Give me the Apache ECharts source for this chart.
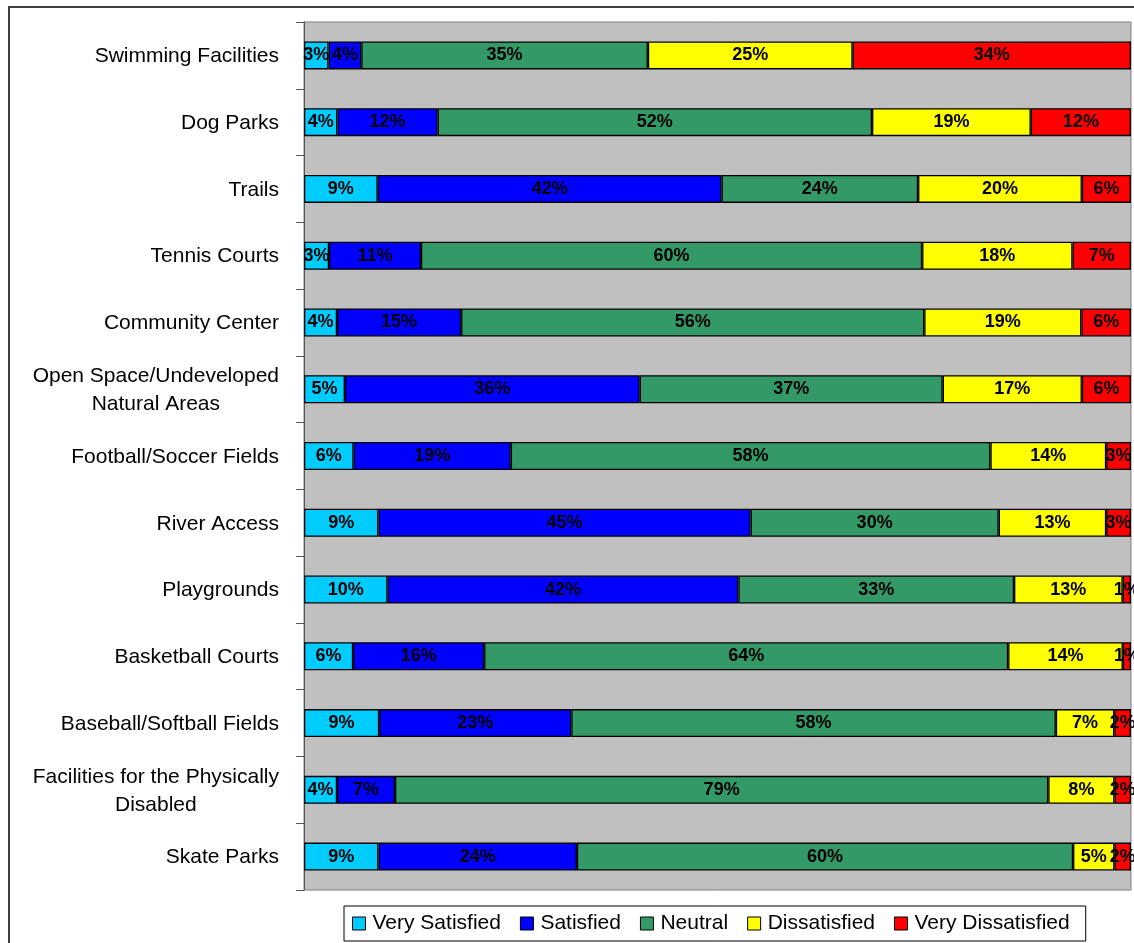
<!DOCTYPE html>
<html>
<head>
<meta charset="utf-8">
<script src="https://cdn.jsdelivr.net/npm/echarts@6/dist/echarts.min.js"></script>
<style>
html,body{margin:0;padding:0;background:#fff;}
#chart{width:1134px;height:943px;}
</style>
</head>
<body>
<div id="chart"></div>
<script>
const categories = [
  "Swimming Facilities",
  "Dog Parks",
  "Trails",
  "Tennis Courts",
  "Community Center",
  "Open Space/Undeveloped\nNatural Areas",
  "Football/Soccer Fields",
  "River Access",
  "Playgrounds",
  "Basketball Courts",
  "Baseball/Softball Fields",
  "Facilities for the Physically\nDisabled",
  "Skate Parks"
];
const seriesNames = ["Very Satisfied", "Satisfied", "Neutral", "Dissatisfied", "Very Dissatisfied"];
const verySatisfied    = [3, 4, 9, 3, 4, 5, 6, 9, 10, 6, 9, 4, 9];
const satisfied        = [4, 12, 42, 11, 15, 36, 19, 45, 42, 16, 23, 7, 24];
const neutral          = [35, 52, 24, 60, 56, 37, 58, 30, 33, 64, 58, 79, 60];
const dissatisfied     = [25, 19, 20, 18, 19, 17, 14, 13, 13, 14, 7, 8, 5];
const veryDissatisfied = [34, 12, 6, 7, 6, 6, 3, 3, 1, 1, 2, 2, 2];
const colors = ["#00CCFF", "#0000FF", "#339966", "#FFFF00", "#FF0000"];

const allSeries = [verySatisfied, satisfied, neutral, dissatisfied, veryDissatisfied];
const totals = categories.map((c, i) => allSeries.reduce((s, arr) => s + arr[i], 0));
const FONT = '"Liberation Sans", Arial, sans-serif';

const chart = echarts.init(document.getElementById('chart'), null, {renderer: 'canvas'});
chart.setOption({
  animation: false,
  backgroundColor: '#fff',
  graphic: [{
    type: 'polyline',
    shape: {points: [[9, 943], [9, 7], [1134, 7]]},
    style: {stroke: '#404040', lineWidth: 2, fill: null},
    silent: true
  }],
  grid: {
    left: 304, right: 3, top: 22, bottom: 53,
    show: true, backgroundColor: '#C0C0C0', borderColor: '#808080', borderWidth: 1
  },
  legend: {
    left: 344, top: 906,
    data: seriesNames.map((n, i) => ({name: n, itemStyle: {color: colors[i], borderColor: '#000', borderWidth: 1}})),
    icon: 'rect',
    itemWidth: 13, itemHeight: 13, itemGap: 19,
    padding: [7, 16, 7, 8],
    borderColor: '#000', borderWidth: 1,
    textStyle: {fontFamily: FONT, fontSize: 21, color: '#000', padding: [0, 0, 0, 2]}
  },
  xAxis: {
    type: 'value', min: 0, max: 100, show: false
  },
  yAxis: {
    type: 'category', inverse: true, data: categories,
    axisLine: {show: true, lineStyle: {color: '#555', width: 1}},
    axisTick: {show: true, length: 8, lineStyle: {color: '#555'}},
    axisLabel: {
      margin: 25, color: '#000', fontFamily: FONT, fontSize: 21,
      formatter: v => v.split('\n').map(l => '{c|' + l + '}').join('\n'),
      rich: {c: {align: 'center', fontFamily: FONT, fontSize: 21, color: '#000', lineHeight: 28, padding: [2, 0, 0, 0]}}
    }
  },
  series: allSeries.map((arr, si) => ({
    name: seriesNames[si],
    type: 'bar',
    stack: 'total',
    barWidth: 28,
    itemStyle: {color: colors[si], borderColor: '#000', borderWidth: 1.3},
    label: {
      show: true, position: 'inside', color: '#000',
      fontFamily: FONT, fontSize: 18, fontWeight: 'bold',
      formatter: p => p.data.raw + '%'
    },
    data: arr.map((v, i) => ({value: v / totals[i] * 100, raw: v}))
  }))
});
</script>
</body>
</html>
